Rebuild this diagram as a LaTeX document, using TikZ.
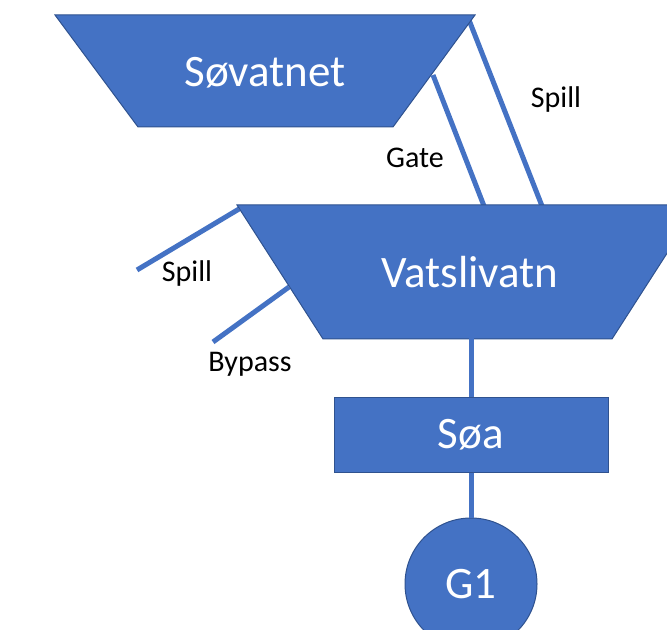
\documentclass[tikz,border=0pt]{standalone}
\usepackage{fontspec}
\setmainfont{Carlito}
\usetikzlibrary{calc}

\definecolor{lakeblue}{RGB}{68,114,196}
\definecolor{lakeedge}{RGB}{47,82,143}

\begin{document}
\begin{tikzpicture}[x=0.75pt,y=0.75pt,yscale=-1,
  lake/.style={fill=lakeblue, draw=lakeedge, line width=0.75pt},
  waterway/.style={draw=lakeblue, line width=3.75pt},
  bigtext/.style={text=white, inner sep=0pt, font=\fontsize{33.75}{40}\selectfont},
  smalltext/.style={text=black, inner sep=0pt, font=\fontsize{22.5}{27}\selectfont}]
\useasboundingbox (0,0) rectangle (667,630);
\clip (0,0) rectangle (667,630);

%Corners of the two reservoirs
\coordinate (sovTL) at (55,15);
\coordinate (sovTR) at (475,15);
\coordinate (sovBR) at (393,127);
\coordinate (sovBL) at (138,127);
\coordinate (vatTL) at (237,205);
\coordinate (vatTR) at (698,205);
\coordinate (vatBR) at (612,339);
\coordinate (vatBL) at (323,339);

%Connection points
\coordinate (sovSpill) at (469,20);
\coordinate (sovGate) at (433,75);
\coordinate (vatSpillIn) at (542,206);
\coordinate (vatGateIn) at (484,206);
\coordinate (vatSpill) at (239,209);
\coordinate (spillEnd) at (137,270);
\coordinate (vatBypass) at (289,287);
\coordinate (bypassEnd) at (213,342);

%Waterways
\draw [waterway] (sovSpill) -- (vatSpillIn);
\draw [waterway] (sovGate) -- (vatGateIn);
\draw [waterway] (vatSpill) -- (spillEnd);
\draw [waterway] (vatBypass) -- (bypassEnd);

%Reservoirs
\draw [lake] (sovTL) -- (sovTR) -- (sovBR) -- (sovBL) -- cycle;
\draw [lake] (vatTL) -- (vatTR) -- (vatBR) -- (vatBL) -- cycle;
\node [bigtext] (sov) at (265,73) {Søvatnet};
\node [bigtext] (vat) at (470,272) {Vatslivatn};

%Station and generator
\node [lake, bigtext, minimum width=205.5pt, minimum height=55.5pt] (soa) at (471,435) {Søa};
\node [lake, bigtext, circle, minimum size=99pt] (g1) at (471,584) {G1};
\coordinate (vatOut) at ($(soa.north |- vatBL)+(0,-1)$);
\draw [waterway] (vatOut) -- (soa.north);
\draw [waterway] (soa.south) -- (g1.north);

% Text Node
\node [smalltext] (spillTop) at (556,100) {Spill};
% Text Node
\node [smalltext] (gate) at (415,158) {Gate};
% Text Node
\node [smalltext] (spillLeft) at (187,274) {Spill};
% Text Node
\node [smalltext] (bypass) at (250,364) {Bypass};

\end{tikzpicture}
\end{document}
